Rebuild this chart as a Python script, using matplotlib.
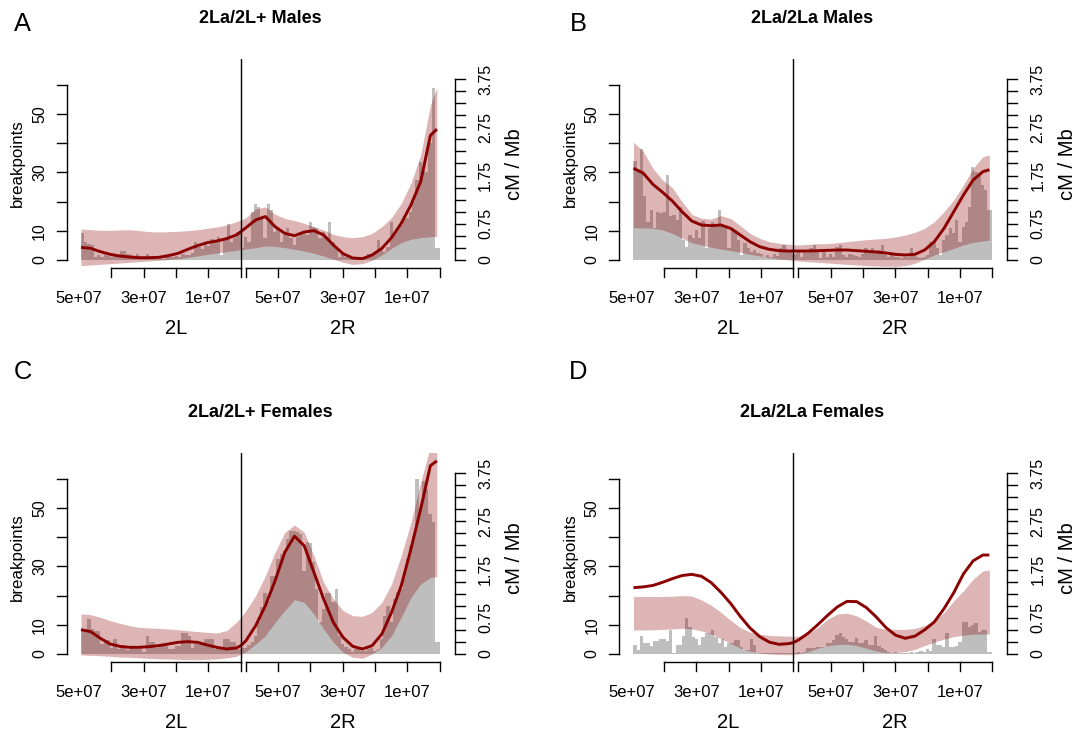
import matplotlib
matplotlib.use("Agg")
import matplotlib.pyplot as plt
import numpy as np

plt.rcParams['font.family'] = ['Liberation Sans', 'DejaVu Sans']

W, H = 1081, 734

# arm lengths in Mb; 2L is drawn first, then 2R
L2L = 49.4
L2R = 61.5

# positions (Mb along the plotted genome) of the smoothed recombination curves
curve_pos = [0, 3, 6, 9, 12, 15, 18, 21, 24, 27, 30, 33, 36, 39, 42, 45, 48, 49.4,
             51, 54, 57, 60, 63, 66, 69, 72, 75, 78, 81, 84, 87, 90, 93, 96, 99,
             102, 105, 108, 110]

titles = ['2La/2L+ Males', '2La/2La Males', '2La/2L+ Females', '2La/2La Females']
letters = ['A', 'B', 'C', 'D']

# breakpoints per 1 Mb bin
a_bars_2l = [9.4, 6.3, 5.4, 5.1, 1.0, 1.7, 1.1, 1.7, 1.4, 0.9, 1.4, 1.7, 3.2, 3.2, 2.0, 1.7,
             1.1, 2.2, 1.1, 1.1, 2.2, 0.6, 0.3, 0.5, 1.0, 0.5, 1.0, 1.0, 1.0, 1.5, 1.0, 2.0,
             1.7, 1.7, 2.3, 6.0, 4.6, 3.7, 5.7, 4.8, 7.1, 6.3, 8.0, 1.7, 6.9, 12.2, 6.3, 7.7,
             9.7, 9.1]
a_bars_2r = [4, 8, 6, 16.6, 19.1, 18.3, 14.3, 7.4, 19.1, 17.1, 9.7, 10.9, 6.3, 8.6, 11.1, 7.7,
             5.1, 8.0, 8.6, 9.1, 8.6, 13.1, 11.4, 10.9, 7.7, 9.7, 8.0, 13.1, 6.3, 4.0, 1.1, 1.9,
             0.9, 1.4, 0.6, 0.8, 1.1, 0.9, 0.6, 1.9, 1.4, 2.3, 6.9, 4.0, 2.9, 4.6, 13.1, 8.6,
             10.9, 12.0, 14.9, 14.5, 16.6, 20.0, 27.4, 33.7, 30.9, 30.3, 40, 59, 4, 4]
b_bars_2l = [34, 30, 38, 22, 13, 17, 11, 16.6, 16, 16.5, 29, 15, 15.4, 13.7, 18, 7, 4.5, 8.6,
             7.4, 10.3, 7.4, 13.4, 4.2, 11, 13, 11.4, 17, 12, 11, 4, 11, 10.3, 7, 1.7, 5.7, 4,
             2.9, 3.4, 2.3, 2, 1.1, 1.7, 1.1, 1.9, 1.4, 4, 5.1, 2.9, 3, 2]
b_bars_2r = [2, 3, 1, 2.9, 2.3, 4, 5.1, 3.4, 0.6, 2.9, 1, 1.9, 1.1, 4.6, 5.1, 1.7, 1.1, 2, 1.7,
             1.4, 1, 2, 4, 2.3, 4, 2.9, 3.4, 5.1, 1.7, 1, 1.7, 1.1, 0.9, 0.6, 1.1, 1.1, 4.2, 1.5,
             1.1, 0.6, 1.1, 1.7, 6.3, 5.7, 4, 1.7, 6.9, 8.6, 10.9, 9.1, 13.7, 6.3, 11.4, 13.1,
             18.3, 32, 30.3, 29.1, 25.7, 24, 17, 17]
c_bars_2l = [8, 8, 12, 8.6, 8, 8, 3.4, 4.9, 4.9, 2, 5.1, 1.7, 1.9, 1.9, 1.5, 1.9, 1.7, 1.7, 1.7,
             0.6, 6.3, 4, 4, 2, 2.9, 2.9, 2.9, 1.7, 1.7, 2.9, 2.9, 7.2, 7.2, 6, 1.9, 3.4, 3.4,
             3.4, 5.1, 5.1, 5.1, 1.7, 1.7, 1.9, 5.1, 5.1, 4, 4.2, 1.7, 1.7]
c_bars_2r = [2, 2, 3, 4.2, 6.3, 10.9, 16, 21, 18, 26.9, 26.9, 32.6, 34.3, 35.4, 39.4, 42.3, 42,
             41.7, 41.1, 28.6, 38.3, 38, 31.4, 22.3, 10.9, 15.4, 21, 21, 17.7, 22.3, 6.3, 3.4,
             2.3, 1.7, 0.6, 1.7, 1.7, 1.1, 1.1, 1.7, 1.9, 1.1, 1.7, 5.1, 13.1, 16.6, 10.9, 18.9,
             21.1, 22.3, 28, 32.6, 37.1, 40.6, 60, 49.7, 59.4, 56.6, 48, 45.4, 4.2, 4.2]
d_bars_2l = [3.1, 1.4, 6.2, 3.9, 3.9, 2.7, 4.5, 4.5, 5, 5, 4.5, 8.2, 0.2, 3.1, 3.1, 6.2, 12.2,
             9.4, 5.9, 5, 3.1, 5.9, 7.1, 7.3, 8.2, 5.9, 3.7, 5, 2.5, 3.7, 3.7, 4.8, 4.8, 2.5,
             1.4, 1.4, 5, 3.1, 0.5, 0.5, 0.3, 0.5, 0.3, 0.5, 0.3, 0.5, 0.3, 0.5, 0.3, 0.5]
d_bars_2r = [0.5, 0.8, 0.5, 0.8, 1.9, 1.9, 1.9, 2.5, 2.5, 2.5, 3.9, 3.9, 4.8, 6.5, 7.1, 5.9, 5,
             4.2, 4.2, 5.4, 3.7, 3.7, 4.8, 3.1, 3.1, 6.2, 2.7, 1.9, 1.4, 0.8, 0.5, 0.8, 0.3, 0.5,
             0.3, 0.5, 0.8, 0.5, 0.8, 1, 0.8, 1.6, 1, 5, 3.1, 3.1, 2.3, 7.1, 2.5, 2.5, 2.7, 4.2,
             11.1, 11.1, 9.4, 9.9, 10.7, 7.7, 8.2, 8.2, 0.8, 0.8]

# recombination rate (cM/Mb) with its lower / upper band
a_rate = [.262, .242, .173, .117, .083, .062, .048, .048, .055, .09, .138, .221, .297, .359,
          .394, .442, .518, .587, .67, .83, .9, .691, .552, .504, .58, .608, .518, .311, .131,
          .041, .028, .104, .242, .463, .76, 1.14, 1.62, 2.58, 2.71]
a_high = [.642, .628, .615, .615, .622, .628, .608, .587, .58, .587, .594, .608, .628, .656,
          .684, .725, .794, .829, .877, 1.06, 1.1, .946, .863, .815, .76, .691, .622, .532,
          .483, .463, .483, .552, .691, .877, 1.174, 1.588, 2.175, 3.2, 3.58]
a_low = [-.117, -.104, -.09, -.076, -.062, -.048, -.035, -.021, -.007, .007, .028, .055, .083,
         .117, .145, .173, .2, .214, .228, .256, .29, .283, .256, .221, .187, .138, .083, .014,
         -.048, -.09, -.076, -.007, .104, .242, .359, .428, .463, .483, .49]

b_rate = [1.9, 1.8, 1.568, 1.402, 1.222, 1.001, .808, .725, .711, .725, .656, .518, .38, .276,
          .221, .193, .186, .186, .186, .186, .193, .2, .207, .207, .193, .18, .166, .145, .117,
          .104, .117, .207, .38, .656, 1.001, 1.347, 1.657, 1.83, 1.87]
b_high = [2.44, 2.25, 1.9, 1.657, 1.499, 1.209, .946, .863, .849, .919, .863, .711, .552, .449,
          .38, .345, .325, .318, .311, .325, .338, .338, .359, .38, .4, .421, .435, .449, .477,
          .518, .573, .656, .794, 1.001, 1.243, 1.554, 1.899, 2.141, 2.175]
b_low = [.67, .663, .656, .622, .552, .449, .359, .311, .262, .228, .193, .159, .117, .083, .048,
         .021, 0, -.01, -.021, -.035, -.048, -.062, -.076, -.09, -.104, -.117, -.124, -.131,
         -.131, -.117, -.069, .021, .104, .173, .242, .311, .366, .394, .41]

c_rate = [.504, .463, .325, .207, .159, .138, .138, .152, .173, .207, .242, .256, .242, .186,
          .138, .104, .124, .173, .276, .587, 1.001, 1.519, 2.106, 2.44, 2.244, 1.692, 1.14,
          .656, .345, .159, .104, .173, .414, .863, 1.416, 2.175, 3.004, 3.9, 4.0]
c_high = [.829, .815, .76, .691, .635, .587, .552, .539, .532, .518, .504, .483, .463, .449,
          .435, .483, .656, .76, .898, 1.209, 1.623, 2.106, 2.521, 2.673, 2.521, 2.037, 1.485,
          1.14, .898, .794, .78, .863, 1.07, 1.45, 2.037, 2.728, 3.557, 4.3, 4.7]
c_low = [-.021, -.028, -.035, -.048, -.062, -.069, -.08, -.09, -.1, -.104, -.11, -.117, -.117,
         -.11, -.104, -.08, -.048, -.007, .048, .207, .38, .656, .898, 1.126, 1.07, .829, .518,
         .242, .035, -.069, -.09, 0, .138, .38, .76, 1.174, 1.45, 1.588, 1.6]

d_rate = [1.374, 1.39, 1.42, 1.485, 1.56, 1.625, 1.65, 1.61, 1.48, 1.28, 1.05, .78, .54, .36,
          .245, .2, .215, .235, .29, .43, .61, .8, .975, 1.09, 1.085, .96, .77, .55, .39, .325,
          .37, .5, .665, .94, 1.27, 1.66, 1.93, 2.05, 2.05]
d_high = [1.19, 1.19, 1.19, 1.19, 1.196, 1.21, 1.2, 1.12, 1.01, .865, .70, .55, .45, .41, .385,
          .375, .37, .366, .37, .42, .55, .72, .83, .845, .79, .68, .555, .511, .511, .511, .53,
          .59, .685, .86, 1.1, 1.31, 1.55, 1.72, 1.74]
d_low = [.497, .497, .5, .51, .52, .532, .52, .48, .415, .32, .22, .12, .06, .02, 0, -.012,
         -.014, -.014, 0, .05, .12, .17, .195, .2, .175, .12, .06, .028, .03, .048, .095, .175,
         .245, .31, .36, .39, .41, .414, .414]

bars_2l = [a_bars_2l, b_bars_2l, c_bars_2l, d_bars_2l]
bars_2r = [a_bars_2r, b_bars_2r, c_bars_2r, d_bars_2r]
rates = [a_rate, b_rate, c_rate, d_rate]
highs = [a_high, b_high, c_high, d_high]
lows = [a_low, b_low, c_low, d_low]

# layout in pixels of the top-left panel; the others are shifted copies
XC, Y0 = 240.8, 260.0      # arm boundary / zero line
SX, SY = 3.235, 2.917      # px per Mb, px per breakpoint
CM_TO_BP = 16.55           # right axis scale relative to left
BOX = (72, 446, 59, 270)   # left, right, top, bottom
OFFSETS = [(0, 0), (552.5, 0), (0, 394), (552.5, 394)]

BAR_COL = '#bebebe'
BAND_COL = (0.545, 0.0, 0.0, 0.29)
LINE_COL = '#8b0000'
AX_LW = 1.0


def ux(px):
    return L2L + (px - XC) / SX


def by(py):
    return (Y0 - py) / SY


fig = plt.figure(figsize=(W / 100, H / 100), dpi=100)

for k in range(4):
    ox, oy = OFFSETS[k]
    left, right, top, bottom = BOX
    ax = fig.add_axes([(left + ox) / W, 1 - (bottom + oy) / H,
                       (right - left) / W, (bottom - top) / H])
    ax.set_xlim(ux(left), ux(right))
    ax.set_ylim(by(bottom), by(top))
    ax.axis('off')
    ax2 = ax.twinx()
    ax2.set_ylim(by(bottom) / CM_TO_BP, by(top) / CM_TO_BP)
    ax2.axis('off')

    # histogram of breakpoints
    e2l = np.arange(len(bars_2l[k]), dtype=float)
    w2l = np.minimum(1.0, L2L - e2l)
    e2r = L2L + np.arange(len(bars_2r[k]), dtype=float)
    w2r = np.minimum(1.0, L2L + L2R - e2r)
    ax.bar(e2l, bars_2l[k], width=w2l, align='edge', color=BAR_COL, linewidth=0)
    ax.bar(e2r, bars_2r[k], width=w2r, align='edge', color=BAR_COL, linewidth=0)

    # smoothed rate and its band
    ax2.fill_between(curve_pos, lows[k], highs[k], color=BAND_COL, linewidth=0)
    ax2.plot(curve_pos, rates[k], color=LINE_COL, lw=2.1, solid_capstyle='butt')
    ax2.axvline(L2L, color='black', lw=AX_LW, zorder=5)

    # left axis
    xa = ux(66.5)
    ax.plot([xa, xa], [0, 60], color='black', lw=AX_LW, clip_on=False)
    for t in range(0, 61, 10):
        ax.plot([xa, ux(56.8)], [t, t], color='black', lw=AX_LW, clip_on=False)
    for t in [0, 10, 30, 50]:
        ax.text(ux(39.6), t, str(t), rotation=90, ha='center', va='center',
                fontsize=11.5, clip_on=False)
    ax.text(ux(17.9), by(163.3), 'breakpoints', rotation=90, ha='center', va='center',
            fontsize=12.2)

    # right axis in cM/Mb
    xr = ux(454.5)
    ax2.plot([xr, xr], [0, 3.75], color='black', lw=AX_LW, clip_on=False)
    for t in np.arange(0, 3.76, 0.25):
        ax2.plot([xr, ux(464.8)], [t, t], color='black', lw=AX_LW, clip_on=False)
    for t, lab in [(0, '0'), (0.75, '0.75'), (1.75, '1.75'), (2.75, '2.75'), (3.75, '3.75')]:
        ax2.text(ux(485.5), t, lab, rotation=90, ha='center', va='center', fontsize=11.5)
    ax2.text(ux(514.8), (Y0 - 164) / SY / CM_TO_BP, 'cM / Mb', rotation=90,
             ha='center', va='center', fontsize=14.5)

    # position axes, one per arm
    yb, yt = by(267.7), by(276.7)
    for start, length, name in [(0, L2L, '2L'), (L2L, L2R, '2R')]:
        end = start + length
        ticks = np.arange(0, length + 0.01, 10)[::-1]
        first = end - ticks[0]
        ax.plot([first, end], [yb, yb], color='black', lw=AX_LW, clip_on=False)
        for v in ticks:
            ax.plot([end - v, end - v], [yb, yt], color='black', lw=AX_LW, clip_on=False)
        for v in [50, 30, 10]:
            ax.text(end - v, by(298.3), '%de+07' % (v // 10), ha='center', va='center',
                    fontsize=12)
        ax.text((first + end) / 2, by(328.3), name, ha='center', va='center', fontsize=14.5)

    ax.text(ux(260), by(18.3), titles[k], ha='center', va='center', fontsize=13,
            fontweight='bold')

letter_pos = [(22.4, 24), (578.6, 24), (22.4, 371.7), (578.6, 371.7)]
for lab, (px, py) in zip(letters, letter_pos):
    fig.text(px / W, 1 - py / H, lab, ha='center', va='center', fontsize=18.4)

fig.savefig('out.png', dpi=100)
